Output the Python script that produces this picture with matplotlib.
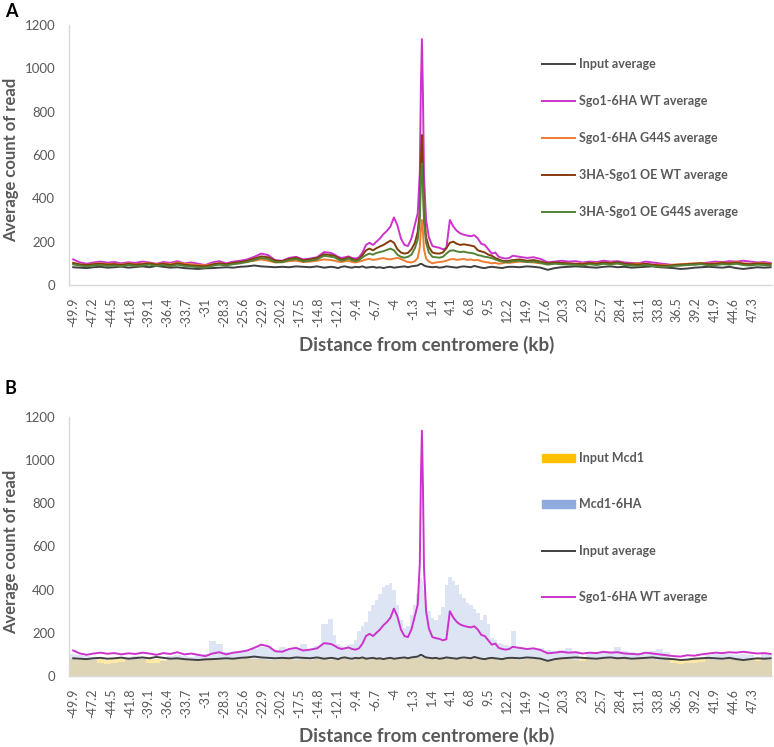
import numpy as np
import matplotlib
matplotlib.use('Agg')
import matplotlib.pyplot as plt
from matplotlib.patches import Patch
from matplotlib.lines import Line2D

plt.rcParams['font.family'] = ['Lato', 'DejaVu Sans']

# sampled bins, distance from centromere (kb)
dist_kb = np.round(np.concatenate([
    [-49.9], np.arange(-49, -12.9, 1.0),
    np.arange(-12.5, -1.4, 0.5),
    [-1.0, -0.6, -0.3, -0.15, 0.0, 0.15, 0.3, 0.6, 1.0],
    np.arange(1.5, 12.6, 0.5),
    np.arange(13, 49.1, 1.0), [49.9]]), 2)

xtick_labels = ['-49.9', '-47.2', '-44.5', '-41.8', '-39.1', '-36.4', '-33.7', '-31',
                '-28.3', '-25.6', '-22.9', '-20.2', '-17.5', '-14.8', '-12.1', '-9.4',
                '-6.7', '-4', '-1.3', '1.4', '4.1', '6.8', '9.5', '12.2', '14.9', '17.6',
                '20.3', '23', '25.7', '28.4', '31.1', '33.8', '36.5', '39.2', '41.9',
                '44.6', '47.3']
ytick_values = [0, 200, 400, 600, 800, 1000, 1200]

# average read counts (rows: far left | -12.5..-1.5 | centre | 1.5..12.5 | far right)
input_avg = ([82, 80, 78, 82, 84, 80, 82, 85, 80, 83, 86, 82, 88, 84, 80, 82, 78, 76, 74, 77,
              78, 80, 82, 80, 84, 86, 90, 86, 84, 82, 84, 82, 86, 84, 82, 86, 80, 84]
             + [82, 78, 84, 86, 82, 80, 84, 82, 86, 80, 82, 84, 80, 82, 78, 82, 84, 80, 82, 84, 86, 82, 86]
             + [88, 90, 96, 98, 96, 94, 90, 86, 84]
             + [82, 84, 80, 82, 86, 84, 82, 80, 84, 86, 84, 82, 88, 84, 80, 78, 82, 84, 82, 80, 78, 82, 84]
             + [84, 82, 86, 84, 80, 70, 78, 82, 84, 86, 84, 82, 80, 84, 86, 82, 84, 80, 82, 84,
                86, 82, 80, 78, 74, 76, 80, 82, 84, 82, 80, 84, 78, 74, 78, 82, 80, 82])

sgo1_wt = ([118, 105, 98, 104, 108, 103, 106, 100, 105, 102, 108, 104, 98, 106, 102, 110, 100, 104, 98, 92,
            104, 110, 100, 108, 112, 118, 130, 145, 138, 115, 112, 125, 130, 118, 122, 128, 152, 148]
           + [140, 130, 125, 128, 132, 125, 122, 128, 150, 185, 195, 185, 200, 215, 235, 250, 270, 312, 275,
              215, 185, 180, 215]
           + [280, 330, 520, 900, 1135, 880, 500, 300, 220]
           + [180, 175, 172, 165, 170, 300, 270, 250, 238, 232, 228, 225, 230, 215, 190, 185, 165, 145, 150,
              130, 125, 122, 125]
           + [135, 130, 125, 128, 120, 105, 108, 112, 108, 110, 104, 108, 106, 112, 108, 110, 104, 102, 100, 108,
              104, 100, 96, 92, 90, 96, 94, 100, 104, 108, 106, 110, 108, 112, 108, 104, 106, 102])

sgo1_g44s = ([100, 96, 92, 98, 100, 96, 98, 94, 100, 96, 98, 102, 96, 100, 96, 104, 98, 96, 92, 90,
              96, 100, 96, 100, 104, 108, 112, 118, 112, 104, 106, 110, 112, 106, 108, 112, 118, 115]
             + [112, 108, 106, 110, 112, 106, 104, 108, 112, 118, 120, 116, 118, 122, 124, 120, 118, 122, 125,
                120, 112, 106, 104]
             + [110, 125, 175, 255, 300, 245, 165, 122, 108]
             + [100, 104, 106, 108, 112, 118, 120, 116, 118, 120, 116, 118, 114, 116, 110, 106, 104, 100, 102,
                98, 100, 104, 102]
             + [104, 108, 106, 104, 100, 98, 102, 100, 98, 96, 100, 98, 102, 100, 104, 98, 96, 98, 100, 96,
                92, 94, 90, 94, 96, 98, 100, 102, 98, 100, 104, 102, 106, 100, 98, 102, 100, 98])

oe_wt = ([102, 95, 92, 96, 98, 94, 96, 92, 98, 94, 96, 100, 94, 98, 92, 100, 94, 90, 88, 86,
          94, 100, 96, 102, 106, 112, 122, 132, 128, 112, 110, 120, 126, 114, 118, 125, 142, 138]
         + [135, 125, 118, 122, 128, 120, 115, 120, 138, 160, 168, 160, 170, 178, 185, 195, 205, 195, 165,
            150, 145, 148, 165]
         + [195, 245, 340, 560, 692, 530, 330, 220, 175]
         + [150, 146, 145, 150, 170, 195, 200, 190, 185, 188, 185, 182, 178, 160, 155, 150, 140, 135, 125,
            118, 112, 110, 112]
         + [115, 118, 112, 115, 108, 100, 104, 102, 100, 98, 96, 102, 98, 104, 100, 106, 98, 96, 94, 98,
            94, 90, 88, 92, 94, 96, 98, 100, 96, 98, 102, 100, 104, 98, 96, 100, 98, 96])

oe_g44s = ([95, 90, 86, 90, 92, 88, 90, 86, 92, 88, 90, 94, 88, 92, 86, 94, 88, 86, 82, 80,
            88, 94, 90, 96, 100, 106, 115, 125, 120, 106, 105, 115, 120, 108, 112, 118, 135, 130]
           + [128, 118, 112, 116, 122, 114, 110, 114, 128, 138, 145, 140, 148, 152, 156, 162, 168, 160, 140,
              130, 126, 130, 140]
           + [170, 210, 300, 470, 560, 450, 290, 195, 150]
           + [130, 128, 126, 130, 145, 158, 160, 155, 152, 154, 150, 148, 145, 138, 135, 130, 128, 124, 118,
              112, 108, 105, 106]
           + [110, 112, 106, 108, 102, 94, 98, 96, 94, 92, 90, 96, 92, 98, 94, 100, 92, 90, 88, 92,
              88, 84, 84, 88, 90, 92, 94, 96, 90, 92, 96, 94, 98, 92, 90, 94, 92, 90])

input_mcd1 = ([78, 76, 74, 76, 78, 75, 77, 79, 76, 78, 80, 77, 79, 76, 74, 77, 75, 73, 72, 74,
               76, 78, 75, 77, 79, 81, 80, 78, 76, 74, 77, 79, 76, 78, 75, 77, 79, 76]
              + [78, 75, 77, 79, 76, 74, 77, 79, 80, 78, 76, 79, 81, 78, 76, 79, 80, 78, 77, 79, 81, 78, 80]
              + [82, 84, 86, 88, 87, 85, 83, 81, 80]
              + [78, 80, 77, 79, 81, 78, 76, 79, 80, 78, 77, 79, 80, 78, 76, 74, 77, 79, 78, 76, 75, 77, 79]
              + [78, 76, 79, 77, 75, 72, 74, 77, 79, 76, 78, 77, 75, 78, 80, 77, 79, 76, 78, 80,
                 77, 75, 77, 78, 76, 74, 77, 79, 78, 76, 75, 78, 76, 74, 76, 78, 77, 76])

mcd1_6ha = ([100, 96, 92, 88, 60, 55, 58, 65, 90, 94, 88, 62, 58, 70, 92, 98, 94, 90, 96, 100,
             160, 150, 110, 105, 112, 118, 125, 132, 140, 115, 135, 120, 128, 150, 125, 140, 240, 265]
            + [190, 150, 140, 135, 145, 150, 165, 210, 230, 250, 300, 330, 350, 380, 410, 420, 430, 400, 330,
               260, 220, 230, 280]
            + [330, 380, 420, 450, 460, 440, 400, 350, 300]
            + [270, 260, 280, 320, 420, 460, 440, 420, 380, 360, 340, 330, 310, 290, 260, 280, 240, 175, 165,
               155, 150, 145, 140]
            + [210, 135, 125, 130, 128, 120, 118, 122, 130, 115, 70, 110, 112, 115, 118, 135, 115, 110, 108, 112,
               118, 125, 110, 60, 55, 62, 58, 65, 95, 100, 104, 100, 98, 102, 96, 70, 100, 98])

GREY = '#595959'
W, H = 774, 747
fig = plt.figure(figsize=(W / 100, H / 100), dpi=100)


def make_axes(top_px, bottom_px):
    ax = fig.add_axes([69 / W, 1 - bottom_px / H, 703 / W, (bottom_px - top_px) / H])
    ax.set_xlim(-50.5, 50.1)
    ax.set_ylim(0, 1200)
    ax.set_yticks(ytick_values)
    ax.set_xticks([float(t) for t in xtick_labels])
    ax.set_xticklabels(xtick_labels, rotation=90, va='top', ha='center')
    ax.tick_params(axis='x', length=0, pad=9, labelsize=9, labelcolor=GREY)
    ax.tick_params(axis='y', length=0, pad=10, labelsize=9.5, labelcolor=GREY)
    for s in ['top', 'right']:
        ax.spines[s].set_visible(False)
    for s in ['left', 'bottom']:
        ax.spines[s].set_color('#d9d9d9')
        ax.spines[s].set_linewidth(1.0)
    ax.set_ylabel('Average count of read', fontsize=12, fontweight='bold', color=GREY, va='center')
    ax.yaxis.set_label_coords(-0.083, 0.48)
    ax.set_xlabel('Distance from centromere (kb)', fontsize=13.5, fontweight='bold', color=GREY,
                  va='center')
    ax.xaxis.set_label_coords(0.509, -60 / (bottom_px - top_px))
    return ax


# ---- panel A
axA = make_axes(25, 285)
series_a = [(input_avg, '#404040', 'Input average'),
            (sgo1_wt, '#cc33cc', 'Sgo1-6HA WT average'),
            (sgo1_g44s, '#ed7d31', 'Sgo1-6HA G44S average'),
            (oe_wt, '#843c0c', '3HA-Sgo1 OE WT average'),
            (oe_g44s, '#548235', '3HA-Sgo1 OE G44S average')]
for vals, col, lab in series_a:
    axA.plot(dist_kb, vals, color=col, lw=1.4, label=lab)
axA.legend(loc='upper left', bbox_to_anchor=(0.673, 0.873), frameon=False,
           borderpad=0, borderaxespad=0, handlelength=2.6, handletextpad=0.35,
           labelspacing=2.0, prop={'weight': 'bold', 'size': 9}, labelcolor=GREY)

# ---- panel B
axB = make_axes(416.7, 676)
edges = np.concatenate([[dist_kb[0] - 0.5], (dist_kb[:-1] + dist_kb[1:]) / 2, [dist_kb[-1] + 0.5]])
axB.stairs(input_mcd1, edges, fill=True, color='#ffc000', alpha=0.35, linewidth=0)
axB.stairs(mcd1_6ha, edges, fill=True, color='#8faadc', alpha=0.3, linewidth=0)
axB.plot(dist_kb, input_avg, color='#404040', lw=1.4)
axB.plot(dist_kb, sgo1_wt, color='#cc33cc', lw=1.4)
handlesB = [Patch(color='#ffc000'), Patch(color='#8faadc'),
            Line2D([], [], color='#404040', lw=1.4), Line2D([], [], color='#cc33cc', lw=1.4)]
labelsB = ['Input Mcd1', 'Mcd1-6HA', 'Input average', 'Sgo1-6HA WT average']
axB.legend(handlesB, labelsB, loc='upper left', bbox_to_anchor=(0.673, 0.864), frameon=False,
           borderpad=0, borderaxespad=0, handlelength=2.6, handleheight=0.6, handletextpad=0.35,
           labelspacing=2.75, prop={'weight': 'bold', 'size': 9}, labelcolor=GREY)

fig.text(5 / W, 1 - 3 / H, 'A', fontsize=13, fontweight='bold', va='top', ha='left')
fig.text(5 / W, 1 - 380 / H, 'B', fontsize=13, fontweight='bold', va='top', ha='left')

fig.savefig('out.png', dpi=100)
